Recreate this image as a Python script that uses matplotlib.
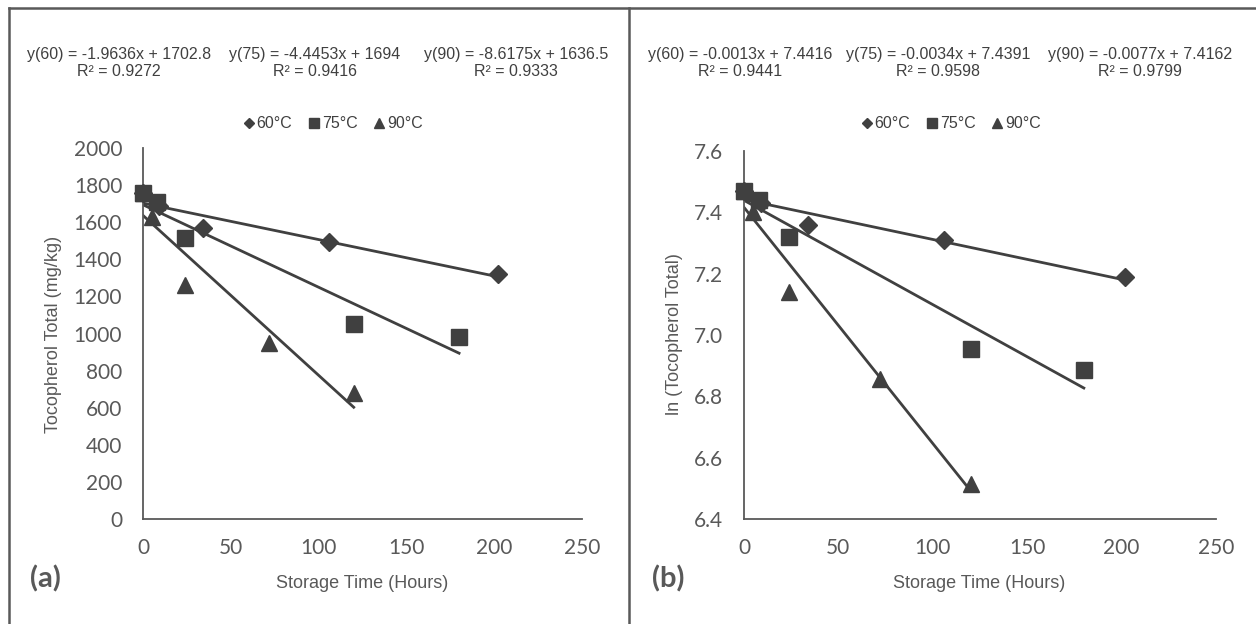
import matplotlib
matplotlib.use("Agg")
import matplotlib.pyplot as plt
from matplotlib.lines import Line2D

# Storage time (hours) and total tocopherol (mg/kg) per temperature
time_60 = [0, 9, 34, 106, 202]
toco_60 = [1760, 1690, 1570, 1495, 1320]
time_75 = [0, 8, 24, 120, 180]
toco_75 = [1760, 1710, 1515, 1050, 980]
time_90 = [0, 5, 24, 72, 120]
toco_90 = [1760, 1630, 1260, 950, 678]

# ln(tocopherol total)
ln_60 = [7.47, 7.43, 7.36, 7.31, 7.19]
ln_75 = [7.47, 7.44, 7.32, 6.955, 6.885]
ln_90 = [7.47, 7.40, 7.14, 6.855, 6.515]

labels = ["60°C", "75°C", "90°C"]
temps = ["60", "75", "90"]

# linear trendlines (slope, intercept, R^2)
slope_a = [-1.9636, -4.4453, -8.6175]
icept_a = [1702.8, 1694, 1636.5]
r2_a = [0.9272, 0.9416, 0.9333]
slope_b = [-0.0013, -0.0034, -0.0077]
icept_b = [7.4416, 7.4391, 7.4162]
r2_b = [0.9441, 0.9598, 0.9799]

W, H = 1256, 624
dark = "#404040"
gray = "#595959"
tick_font = "Lato"
text_font = ["Liberation Sans", "DejaVu Sans"]


def fx(px):
    return px / W


def fy(py):
    return 1 - py / H


fig = plt.figure(figsize=(W / 100, H / 100), dpi=100)
fig.patch.set_facecolor("white")

# panel frame lines
fig.add_artist(Line2D([fx(9), fx(W)], [fy(8), fy(8)], color=gray, lw=1.8))
fig.add_artist(Line2D([fx(9), fx(9)], [fy(8), 0], color=gray, lw=1.8))
fig.add_artist(Line2D([fx(629), fx(629)], [fy(8), 0], color=gray, lw=1.8))

markers = ["D", "s", "^"]
msizes = [9, 11, 11.5]


def make_panel(rect, times, values, slopes, icepts, r2s, ylim, yticks, yfmt,
               ylabel, tag, tag_x, eq_x, leg_x, ylabel_x, xlabel_x):
    ax = fig.add_axes(rect)
    for s in ["top", "right"]:
        ax.spines[s].set_visible(False)
    for s in ["left", "bottom"]:
        ax.spines[s].set_color(gray)
        ax.spines[s].set_linewidth(1.3)
    ax.set_xlim(0, 250)
    ax.set_ylim(*ylim)
    ax.set_xticks(range(0, 251, 50))
    ax.set_yticks(yticks)
    ax.set_yticklabels([yfmt.format(v) for v in yticks])
    ax.tick_params(length=0, labelsize=15, colors=gray)
    ax.tick_params(axis="y", pad=15)
    ax.tick_params(axis="x", pad=14)
    for lab in ax.get_xticklabels() + ax.get_yticklabels():
        lab.set_fontfamily(tick_font)

    for i in range(3):
        xmax = max(times[i])
        ax.plot([0, xmax], [icepts[i], icepts[i] + slopes[i] * xmax],
                color=dark, lw=2.0, zorder=2)
    # draw squares last so they sit on top at t=0
    for i in [0, 2, 1]:
        ax.plot(times[i], values[i], linestyle="none", marker=markers[i],
                ms=msizes[i], color=dark, clip_on=False, zorder=3 + i)

    for i in range(3):
        eq = "y({}) = {:g}x + {:g}".format(temps[i], slopes[i], icepts[i])
        fig.text(fx(eq_x[i]), fy(54), eq, ha="center", va="center",
                 fontsize=11.5, color=dark, family=text_font)
        fig.text(fx(eq_x[i]), fy(71.5), "R² = {:.4f}".format(r2s[i]),
                 ha="center", va="center", fontsize=11.5, color=dark,
                 family=text_font)

    handles = [Line2D([], [], linestyle="none", marker=markers[i],
                      ms=msizes[i] * 0.6, color=dark) for i in range(3)]
    fig.legend(handles, labels, loc="center", ncol=3, frameon=False,
               bbox_to_anchor=(fx(leg_x), fy(124)), handlelength=0.7,
               handletextpad=0.15, columnspacing=1.0,
               prop={"family": text_font, "size": 11.5}, labelcolor=dark)

    fig.text(fx(xlabel_x), fy(583), "Storage Time (Hours)", ha="center",
             va="center", fontsize=13, color=gray, family=text_font)
    fig.text(fx(ylabel_x), fy(334), ylabel, ha="center", va="center",
             rotation=90, fontsize=13, color=gray, family=text_font)
    fig.text(fx(tag_x), fy(579), tag, ha="left", va="center", fontsize=21,
             fontweight="bold", color=gray, family=tick_font)
    return ax


make_panel([fx(143), fy(519), (582 - 143) / W, (519 - 148) / H],
           [time_60, time_75, time_90], [toco_60, toco_75, toco_90],
           slope_a, icept_a, r2_a, (0, 2000), list(range(0, 2001, 200)),
           "{:d}", "Tocopherol Total (mg/kg)", "(a)", 30,
           [119, 315, 516], 333, 54, 362)

make_panel([fx(744), fy(519), (1216 - 744) / W, (519 - 151) / H],
           [time_60, time_75, time_90], [ln_60, ln_75, ln_90],
           slope_b, icept_b, r2_b, (6.4, 7.6),
           [6.4, 6.6, 6.8, 7.0, 7.2, 7.4, 7.6],
           "{:.1f}", "ln (Tocopherol Total)", "(b)", 652,
           [740, 938, 1140], 951, 674, 979)

fig.savefig("out.png", dpi=100, facecolor="white")
